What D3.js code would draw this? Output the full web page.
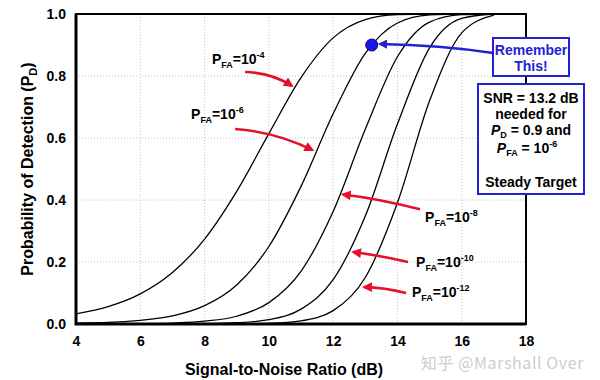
<!DOCTYPE html>
<html>
<head>
<meta charset="utf-8">
<script src="https://cdn.jsdelivr.net/npm/d3@7"></script>
<style>
  body { margin: 0; background: #fff; }
  svg { display: block; font-family: "Liberation Sans", Arial, sans-serif; }
  .tick-label { font-size: 14px; font-weight: bold; fill: #000; }
  .axis-title { font-size: 16px; font-weight: bold; fill: #000; }
  .pfa-label { font-weight: bold; fill: #000; }
  .box-text { font-size: 14px; font-weight: bold; }
</style>
</head>
<body>
<div id="chart"></div>
<script>
// SNR samples (dB) and detection probability
const snrDb = [4, 5, 6, 7, 8, 9, 10, 11, 12, 13, 14, 15, 16, 17];
const pdPfa4  = [0.033, 0.056, 0.097, 0.166, 0.274, 0.428, 0.614, 0.795, 0.923, 0.982, 0.998, 1.0, 1.0, 1.0];
const pdPfa6  = [0.003, 0.005, 0.012, 0.026, 0.059, 0.126, 0.250, 0.444, 0.678, 0.873, 0.971, 0.997, 1.0, 1.0];
const pdPfa8  = [0.0, 0.0, 0.001, 0.003, 0.009, 0.025, 0.069, 0.170, 0.363, 0.628, 0.862, 0.974, 0.998, 1.0];
const pdPfa10 = [0.0, 0.0, 0.0, 0.0, 0.001, 0.004, 0.014, 0.048, 0.143, 0.348, 0.645, 0.891, 0.986, 1.0];
const pdPfa12 = [0.0, 0.0, 0.0, 0.0, 0.0, 0.0, 0.002, 0.010, 0.043, 0.150, 0.391, 0.720, 0.939, 0.996];
const pfaExponents = [-4, -6, -8, -10, -12];

const xTicks = [4, 6, 8, 10, 12, 14, 16, 18];
const yTicks = [0.0, 0.2, 0.4, 0.6, 0.8, 1.0];

// highlighted design point
const targetSnr = 13.2;
const targetPd = 0.9;

const series = [pdPfa4, pdPfa6, pdPfa8, pdPfa10, pdPfa12].map((pd, i) => ({
  exp: pfaExponents[i],
  points: snrDb.map((s, j) => [s, pd[j]])
}));

const width = 600, height = 380;
const margin = {top: 14, right: 74, bottom: 56, left: 76};
const innerW = width - margin.left - margin.right;
const innerH = height - margin.top - margin.bottom;

const red = '#e5112b';
const blue = '#2222d4';

const svg = d3.select('#chart').append('svg')
    .attr('width', width)
    .attr('height', height);

const defs = svg.append('defs');
[['arrow-red', red], ['arrow-blue', blue]].forEach(([id, c]) => {
  defs.append('marker')
      .attr('id', id)
      .attr('viewBox', '0 0 10 10')
      .attr('refX', 8)
      .attr('refY', 5)
      .attr('markerWidth', 4.2)
      .attr('markerHeight', 3.8)
      .attr('markerUnits', 'strokeWidth')
      .attr('orient', 'auto')
    .append('path')
      .attr('d', 'M0,0 L10,5 L0,10 Z')
      .attr('fill', c);
});

const x = d3.scaleLinear().domain([4, 18]).range([0, innerW]);
const y = d3.scaleLinear().domain([0, 1]).range([innerH, 0]);

const g = svg.append('g')
    .attr('transform', `translate(${margin.left},${margin.top})`);

// dotted grid
g.append('g').selectAll('line')
  .data(xTicks.slice(1, -1))
  .join('line')
    .attr('x1', d => x(d)).attr('x2', d => x(d))
    .attr('y1', 0).attr('y2', innerH)
    .attr('stroke', '#c4c4c4')
    .attr('stroke-dasharray', '1,2');

g.append('g').selectAll('line')
  .data(yTicks.slice(1, -1))
  .join('line')
    .attr('y1', d => y(d)).attr('y2', d => y(d))
    .attr('x1', 0).attr('x2', innerW)
    .attr('stroke', '#c4c4c4')
    .attr('stroke-dasharray', '1,2');

// curves
const line = d3.line()
    .x(d => x(d[0]))
    .y(d => y(d[1]))
    .curve(d3.curveMonotoneX);

g.append('g').selectAll('path')
  .data(series)
  .join('path')
    .attr('d', d => line(d.points))
    .attr('fill', 'none')
    .attr('stroke', '#000')
    .attr('stroke-width', 1.3);

// frame
g.append('rect')
    .attr('width', innerW)
    .attr('height', innerH)
    .attr('fill', 'none')
    .attr('stroke', '#000')
    .attr('stroke-width', 2);
g.append('path')
    .attr('d', `M0,0 V${innerH} H${innerW}`)
    .attr('fill', 'none')
    .attr('stroke', '#000')
    .attr('stroke-width', 3);

// axes (labels only, the frame is drawn above)
const xAxis = d3.axisBottom(x).tickValues(xTicks).tickSize(0).tickPadding(12).tickFormat(d3.format('d'));
const yAxis = d3.axisLeft(y).tickValues(yTicks).tickSize(0).tickPadding(10).tickFormat(d3.format('.1f'));

g.append('g')
    .attr('transform', `translate(0,${innerH})`)
    .call(xAxis)
    .call(a => a.select('.domain').remove())
    .selectAll('text')
      .attr('class', 'tick-label')
      .attr('font-family', null)
      .attr('font-size', null);

g.append('g')
    .call(yAxis)
    .call(a => a.select('.domain').remove())
    .selectAll('text')
      .attr('class', 'tick-label')
      .attr('font-family', null)
      .attr('font-size', null);

svg.append('text')
    .attr('class', 'axis-title')
    .attr('x', 284)
    .attr('y', 375)
    .attr('text-anchor', 'middle')
    .text('Signal-to-Noise Ratio (dB)');

const yTitle = svg.append('text')
    .attr('class', 'axis-title')
    .attr('text-anchor', 'middle')
    .attr('transform', `translate(33,${margin.top + innerH / 2}) rotate(-90)`);
yTitle.append('tspan').text('Probability of Detection (P');
yTitle.append('tspan').attr('font-size', 11).attr('dy', 4).text('D');
yTitle.append('tspan').attr('dy', -4).text(')');

// P_FA labels with red arrows, placed in data units
const pfaNotes = [
  {exp: -4,  label: [8.23, 0.84],  tail: [9.26, 0.813], ctrl: [10.1, 0.81], tip: [10.72, 0.768]},
  {exp: -6,  label: [7.58, 0.66],  tail: [8.95, 0.629], ctrl: [10.2, 0.62], tip: [11.36, 0.561]},
  {exp: -8,  label: [14.86, 0.33], tail: [14.7, 0.37],  ctrl: [13.4, 0.405], tip: [12.3, 0.418]},
  {exp: -10, label: [14.58, 0.185], tail: [14.33, 0.2], ctrl: [13.4, 0.222], tip: [12.62, 0.232]},
  {exp: -12, label: [14.45, 0.088], tail: [14.27, 0.1], ctrl: [13.6, 0.118], tip: [12.96, 0.119]}
];

pfaNotes.forEach(n => {
  const p = d3.path();
  p.moveTo(x(n.tail[0]), y(n.tail[1]));
  p.quadraticCurveTo(x(n.ctrl[0]), y(n.ctrl[1]), x(n.tip[0]), y(n.tip[1]));
  g.append('path')
      .attr('d', p.toString())
      .attr('fill', 'none')
      .attr('stroke', red)
      .attr('stroke-width', 2.6)
      .attr('marker-end', 'url(#arrow-red)');

  const t = g.append('text')
      .attr('class', 'pfa-label')
      .attr('x', x(n.label[0]))
      .attr('y', y(n.label[1]))
      .attr('font-size', 14);
  t.append('tspan').text('P');
  t.append('tspan').attr('font-size', 9).attr('dy', 4).text('FA');
  t.append('tspan').attr('dy', -4).text('=10');
  t.append('tspan').attr('font-size', 9).attr('dy', -6).text(n.exp);
});

// blue arrow + design point
const bp = d3.path();
bp.moveTo(493 - margin.left, 53 - margin.top);
bp.quadraticCurveTo(440 - margin.left, 45 - margin.top, x(targetSnr) + 8, y(targetPd) - 1);
g.append('path')
    .attr('d', bp.toString())
    .attr('fill', 'none')
    .attr('stroke', blue)
    .attr('stroke-width', 2.4)
    .attr('marker-end', 'url(#arrow-blue)');

g.append('circle')
    .attr('cx', x(targetSnr))
    .attr('cy', y(targetPd))
    .attr('r', 6)
    .attr('fill', '#1717e6')
    .attr('stroke', '#0a0a60')
    .attr('stroke-width', 1);

// callout boxes
svg.append('rect')
    .attr('x', 493).attr('y', 38)
    .attr('width', 76).attr('height', 38)
    .attr('fill', '#fff')
    .attr('stroke', blue)
    .attr('stroke-width', 2);

svg.append('text')
    .attr('class', 'box-text')
    .attr('fill', blue)
    .attr('text-anchor', 'middle')
    .selectAll('tspan')
    .data(['Remember', 'This!'])
    .join('tspan')
      .attr('x', 531)
      .attr('y', (d, i) => 55 + i * 16)
      .text(d => d);

svg.append('rect')
    .attr('x', 478).attr('y', 84)
    .attr('width', 106).attr('height', 110)
    .attr('fill', '#fff')
    .attr('stroke', blue)
    .attr('stroke-width', 2);

const info = svg.append('text')
    .attr('class', 'box-text')
    .attr('fill', '#000')
    .attr('text-anchor', 'middle');
info.append('tspan').attr('x', 531).attr('y', 103).text(`SNR = ${targetSnr} dB`);
info.append('tspan').attr('x', 531).attr('y', 119).text('needed for');

const l3 = svg.append('text').attr('class', 'box-text').attr('text-anchor', 'middle')
    .attr('x', 531).attr('y', 135);
l3.append('tspan').attr('font-style', 'italic').text('P');
l3.append('tspan').attr('font-size', 9).attr('dy', 3).text('D');
l3.append('tspan').attr('dy', -3).text(` = ${targetPd} and`);

const l4 = svg.append('text').attr('class', 'box-text').attr('text-anchor', 'middle')
    .attr('x', 527).attr('y', 153);
l4.append('tspan').attr('font-style', 'italic').text('P');
l4.append('tspan').attr('font-size', 9).attr('dy', 3).text('FA');
l4.append('tspan').attr('dy', -3).text(' = 10');
l4.append('tspan').attr('font-size', 9).attr('dy', -6).text('-6');

svg.append('text')
    .attr('class', 'box-text')
    .attr('text-anchor', 'middle')
    .attr('x', 531).attr('y', 187)
    .text('Steady Target');

// watermark
svg.append('text')
    .attr('x', 584).attr('y', 369)
    .attr('text-anchor', 'end')
    .attr('font-family', '"Noto Sans CJK SC", "Noto Sans", sans-serif')
    .attr('font-size', 16)
    .attr('letter-spacing', 0.6)
    .attr('fill', '#cdcdcd')
    .text('知乎 @Marshall Over');
</script>
</body>
</html>
